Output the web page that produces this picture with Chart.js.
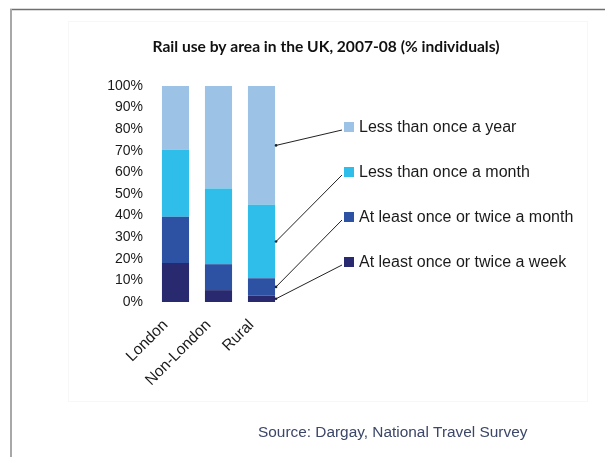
<!DOCTYPE html>
<html><head><meta charset="utf-8">
<script src="https://cdn.jsdelivr.net/npm/chart.js@4"></script>
<style>html,body{margin:0;padding:0;background:#fff}#wrap{width:605px;height:457px;position:relative}canvas{display:block}</style>
</head><body><div id="wrap"><canvas id="c" width="605" height="457"></canvas></div>
<script>
const categories = ["London", "Non-London", "Rural"];
const seriesNames = ["At least once or twice a week", "At least once or twice a month", "Less than once a month", "Less than once a year"];
const weekly = [18, 5.5, 3];
const monthly = [21.5, 12, 8];
const lessMonthly = [31, 35, 34];
const lessYearly = [29.5, 47.5, 55];
const yTickValues = [0, 10, 20, 30, 40, 50, 60, 70, 80, 90, 100];
const titleText = "Rail use by area in the UK, 2007-08 (% individuals)";
const sourceText = "Source: Dargay, National Travel Survey";
const colors = ["#28296f", "#2e52a3", "#2fbde9", "#9cc3e5"];

const seriesValues = [weekly, monthly, lessMonthly, lessYearly];

const decor = {
  id: 'decor',
  beforeDraw(chart) {
    const ctx = chart.ctx;
    ctx.save();
    ctx.fillStyle = '#fff';
    ctx.fillRect(0, 0, chart.width, chart.height);
    // faint inner panel
    ctx.strokeStyle = '#f7f7f7';
    ctx.lineWidth = 1;
    ctx.strokeRect(68.5, 21.5, 519, 380);
    // outer frame
    ctx.strokeStyle = '#6f6f6f';
    ctx.lineWidth = 1.5;
    ctx.beginPath(); ctx.moveTo(10, 9.5); ctx.lineTo(605, 9.5); ctx.stroke();
    ctx.strokeStyle = '#a8a8a8';
    ctx.lineWidth = 2;
    ctx.beginPath(); ctx.moveTo(11, 9); ctx.lineTo(11, 457); ctx.stroke();
    ctx.restore();
  },
  afterDraw(chart) {
    const ctx = chart.ctx;
    const y = chart.scales.y;
    ctx.save();
    // title
    ctx.fillStyle = '#111';
    ctx.font = 'bold 15.6px Lato, "Liberation Sans", sans-serif';
    ctx.textAlign = 'center';
    ctx.textBaseline = 'middle';
    ctx.fillText(titleText, 326, 47);
    // legend with leader lines
    const last = categories.length - 1;
    const barEl = chart.getDatasetMeta(0).data[last];
    const barRight = barEl.x + barEl.width / 2;
    ctx.font = '16px "Liberation Sans", Arial, sans-serif';
    ctx.textAlign = 'left';
    for (let k = 0; k < seriesNames.length; k++) {
      const s = seriesNames.length - 1 - k; // top-down order
      const cy = 127 + k * 45;
      ctx.fillStyle = colors[s];
      ctx.fillRect(344, cy - 5, 10, 10);
      ctx.fillStyle = '#1a1a1a';
      ctx.fillText(seriesNames[s], 359, cy + 1);
      let base = 0;
      for (let j = 0; j < s; j++) base += seriesValues[j][last];
      const mid = base + seriesValues[s][last] / 2;
      ctx.strokeStyle = '#222';
      ctx.lineWidth = 1;
      ctx.beginPath();
      ctx.moveTo(342, cy + 3);
      ctx.lineTo(barRight + 1, y.getPixelForValue(mid));
      ctx.stroke();
      ctx.fillStyle = '#222';
      ctx.beginPath();
      ctx.arc(barRight + 1, y.getPixelForValue(mid), 1.3, 0, Math.PI * 2);
      ctx.fill();
    }
    // source
    ctx.fillStyle = '#3b4668';
    ctx.font = '15.4px "Liberation Sans", Arial, sans-serif';
    ctx.textAlign = 'left';
    ctx.fillText(sourceText, 258, 433);
    ctx.restore();
  }
};

new Chart(document.getElementById('c'), {
  type: 'bar',
  data: {
    labels: categories,
    datasets: seriesValues.map((vals, i) => ({
      label: seriesNames[i],
      data: vals,
      backgroundColor: colors[i],
      borderWidth: 0,
      categoryPercentage: 1,
      barPercentage: 0.63
    }))
  },
  options: {
    responsive: false,
    animation: false,
    devicePixelRatio: 1,
    layout: { padding: { left: 10, right: 322, top: 86, bottom: 0 } },
    plugins: { legend: { display: false }, title: { display: false }, tooltip: { enabled: false } },
    scales: {
      x: {
        stacked: true,
        grid: { display: false, drawTicks: false },
        border: { display: false },
        ticks: {
          color: '#1a1a1a',
          font: { family: '"Liberation Sans", Arial, sans-serif', size: 15.5 },
          minRotation: 45, maxRotation: 45,
          padding: 14, labelOffset: -10, autoSkip: false
        },
        afterFit(scale) { scale.height = 155; }
      },
      y: {
        stacked: true,
        min: 0, max: 100,
        afterBuildTicks(scale) { scale.ticks = yTickValues.map(v => ({ value: v })); },
        grid: { display: false, drawTicks: false },
        border: { display: false },
        ticks: {
          color: '#1a1a1a',
          font: { family: '"Liberation Sans", Arial, sans-serif', size: 14 },
          padding: 11,
          callback: v => v + '%'
        },
        afterFit(scale) { scale.width = 144; }
      }
    }
  },
  plugins: [decor]
});
</script>
</body></html>
